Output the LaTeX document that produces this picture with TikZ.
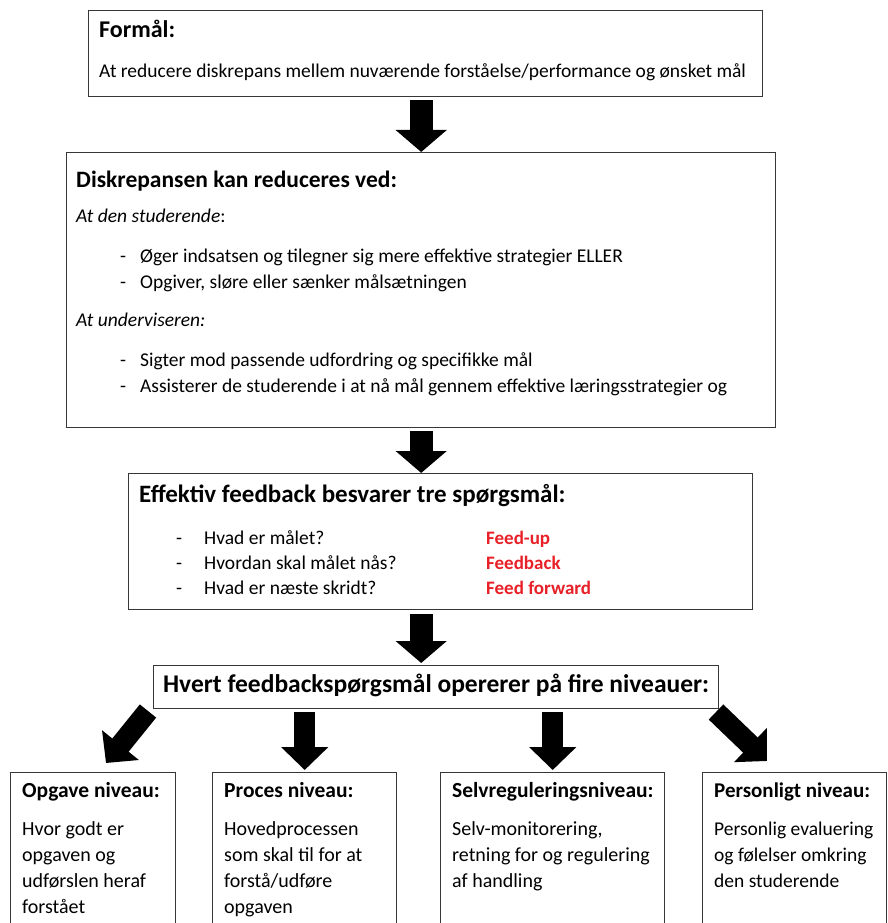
\documentclass[tikz,border=0pt]{standalone}
\usepackage{fontspec}
\setmainfont{Carlito}
\usetikzlibrary{arrows.meta}
\definecolor{fbred}{RGB}{232,32,40}
\definecolor{boxline}{RGB}{55,55,55}
\begin{document}
\begin{tikzpicture}[x=1pt,y=-1pt,
  box/.style={draw=boxline, line width=1.4pt, fill=white, rectangle, anchor=north west, inner sep=0pt},
  body/.style={anchor=west, inner sep=0pt, text height=14pt, text depth=5pt, font=\fontsize{19.5}{23}\selectfont},
  lowbody/.style={body, font=\fontsize{20}{24}\selectfont},
  ttl/.style={anchor=west, inner sep=0pt, text height=17pt, text depth=6pt, font=\fontsize{24}{28}\selectfont\bfseries},
  sttl/.style={anchor=west, inner sep=0pt, text height=15pt, text depth=5pt, font=\fontsize{21.5}{25}\selectfont\bfseries},
  redtxt/.style={body, text=fbred, font=\fontsize{19}{23}\selectfont\bfseries},
  bigarrow/.style={draw=black, line width=23pt, -{Triangle[length=22pt, width=50pt]}},
  smallarrow/.style={draw=black, line width=21pt, -{Triangle[length=23pt, width=46pt]}}
]
\useasboundingbox (0,0) rectangle (888,923);
\fill[white] (0,0) rectangle (888,923);

% ---------- Box 1
\node[box, minimum width=674pt, minimum height=86pt] (b1) at (88,10) {};
\node[ttl] (b1t) at (99,32) {Formål:};
\node[body] (b1l) at (99,73) {At reducere diskrepans mellem nuværende forståelse/performance og ønsket mål};

% ---------- Box 2
\node[box, minimum width=709pt, minimum height=275pt] (b2) at (66,152) {};
\node[ttl, font=\fontsize{23.5}{28}\selectfont\bfseries] (b2t) at (76,182) {Diskrepansen kan reduceres ved:};
\node[body] (b2s) at (76,218) {\itshape At den studerende\upshape:};
\node[body] (b2d1) at (120,258) {-};
\node[body] (b2l1) at (140,258) {Øger indsatsen og tilegner sig mere effektive strategier ELLER};
\node[body] (b2d2) at (120,284) {-};
\node[body] (b2l2) at (140,284) {Opgiver, sløre eller sænker målsætningen};
\node[body] (b2u) at (76,322) {\itshape At underviseren:};
\node[body] (b2d3) at (120,362) {-};
\node[body] (b2l3) at (140,362) {Sigter mod passende udfordring og specifikke mål};
\node[body] (b2d4) at (120,388) {-};
\node[body] (b2l4) at (140,388) {Assisterer de studerende i at nå mål gennem effektive læringsstrategier og};

% ---------- Box 3
\node[box, minimum width=624pt, minimum height=136pt] (b3) at (128,473) {};
\node[ttl, font=\fontsize{25}{29}\selectfont\bfseries] (b3t) at (139,497) {Effektiv feedback besvarer tre spørgsmål:};
\node[body] (b3d1) at (176,540) {-};
\node[body] (b3l1) at (204,540) {Hvad er målet?};
\node[redtxt] (b3r1) at (486,540) {Feed-up};
\node[body] (b3d2) at (176,565) {-};
\node[body] (b3l2) at (204,565) {Hvordan skal målet nås?};
\node[redtxt] (b3r2) at (486,565) {Feedback};
\node[body] (b3d3) at (176,590) {-};
\node[body] (b3l3) at (204,590) {Hvad er næste skridt?};
\node[redtxt] (b3r3) at (486,590) {Feed forward};

% ---------- Box 4
\node[box, minimum width=565pt, minimum height=43pt] (b4) at (153,665) {};
\node[ttl, anchor=center, font=\fontsize{25.5}{30}\selectfont\bfseries] (b4t) at (b4.center) {Hvert feedbackspørgsmål opererer på fire niveauer:};

% ---------- Bottom boxes
\node[box, minimum width=165pt, minimum height=200pt] (bA) at (10,772) {};
\node[box, minimum width=184pt, minimum height=200pt] (bB) at (212,772) {};
\node[box, minimum width=224pt, minimum height=200pt] (bC) at (440,772) {};
\node[box, minimum width=184pt, minimum height=200pt] (bD) at (702,772) {};

\node[sttl] (bAt) at (22,792) {Opgave niveau:};
\node[lowbody] (bA1) at (22,831) {Hvor godt er};
\node[lowbody] (bA2) at (22,857) {opgaven og};
\node[lowbody] (bA3) at (22,883) {udførslen heraf};
\node[lowbody] (bA4) at (22,909) {forstået};

\node[sttl] (bBt) at (224,792) {Proces niveau:};
\node[lowbody] (bB1) at (224,831) {Hovedprocessen};
\node[lowbody] (bB2) at (224,857) {som skal til for at};
\node[lowbody] (bB3) at (224,883) {forstå/udføre};
\node[lowbody] (bB4) at (224,909) {opgaven};

\node[sttl] (bCt) at (452,792) {Selvreguleringsniveau:};
\node[lowbody] (bC1) at (452,831) {Selv-monitorering,};
\node[lowbody] (bC2) at (452,857) {retning for og regulering};
\node[lowbody] (bC3) at (452,883) {af handling};

\node[sttl, font=\fontsize{21}{25}\selectfont\bfseries] (bDt) at (714,792) {Personligt niveau:};
\node[body] (bD1) at (714,831) {Personlig evaluering};
\node[body] (bD2) at (714,857) {og følelser omkring};
\node[body] (bD3) at (714,883) {den studerende};

% ---------- Arrows
\draw[bigarrow] ([yshift=-3pt]b1.south -| b2.north) -- (b2.north);
\draw[bigarrow] ([yshift=-3pt]b2.south) -- (b2.south |- b3.north);
\draw[bigarrow] ([yshift=-4pt]b3.south -| b2.north) -- ([yshift=2pt]b2.north |- b4.north);

\coordinate (dAs) at (148,711);
\coordinate (dAe) at (106,763);
\coordinate (dDs) at (716,712);
\coordinate (dDe) at (767,761);
\draw[smallarrow] (dAs) -- (dAe);
\draw[smallarrow] ([yshift=-3pt]b4.south -| bB.north) -- ([yshift=2pt]bB.north);
\draw[smallarrow] ([yshift=-3pt]b4.south -| bC.north) -- ([yshift=2pt]bC.north);
\draw[smallarrow] (dDs) -- (dDe);
\end{tikzpicture}
\end{document}
